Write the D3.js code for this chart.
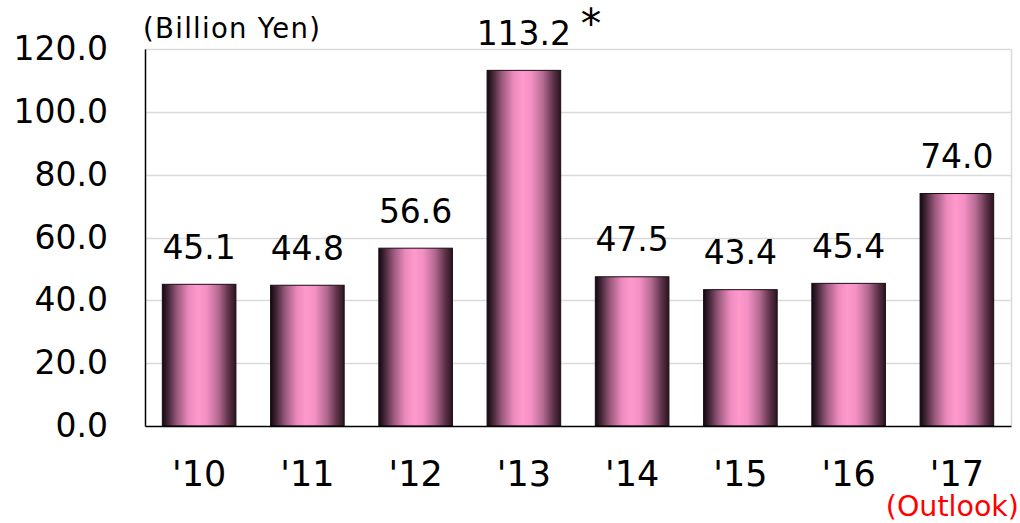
<!DOCTYPE html>
<html><head><meta charset="utf-8">
<script src="https://cdn.jsdelivr.net/npm/d3@7"></script>
<style>
html,body{margin:0;padding:0;background:#fff;}
svg{display:block;font-family:"DejaVu Sans",Verdana,sans-serif;}
</style></head>
<body>
<svg id="c" width="1020" height="523"></svg>
<script>
const categories = ["'10","'11","'12","'13","'14","'15","'16","'17"];
const values = [45.1,44.8,56.6,113.2,47.5,43.4,45.4,74.0];
const valueLabels = ["45.1","44.8","56.6","113.2","47.5","43.4","45.4","74.0"];
const yTicks = [0,20,40,60,80,100,120];
const unitLabel = "(Billion Yen)";
const noteLabel = "(Outlook)";

const svg = d3.select("#c");
const L=145, R=1011, T=49, B=426;
const x = d3.scaleBand().domain(categories).range([L,R]).paddingInner(0.32).paddingOuter(0.16);
const y = d3.scaleLinear().domain([0,120]).range([B,T]);

const defs = svg.append("defs");
const g = defs.append("linearGradient").attr("id","bg").attr("x1","0").attr("x2","1").attr("y1","0").attr("y2","0");
[[0,"#120810"],[0.07,"#3e2232"],[0.2,"#9a587c"],[0.36,"#ec8abd"],[0.48,"#ff99cc"],[0.6,"#f490c4"],[0.76,"#b46a92"],[0.9,"#5e3249"],[1,"#2a1420"]]
 .forEach(s=>g.append("stop").attr("offset",s[0]).attr("stop-color",s[1]));

// gridlines
svg.append("g").selectAll("line").data(yTicks.filter(t=>t>0)).join("line")
  .attr("x1",L).attr("x2",R).attr("y1",d=>Math.round(y(d))+0.5).attr("y2",d=>Math.round(y(d))+0.5)
  .attr("stroke","#d9d9d9").attr("stroke-width",1.5);
// right border
svg.append("line").attr("x1",R+0.5).attr("x2",R+0.5).attr("y1",T).attr("y2",B).attr("stroke","#d9d9d9").attr("stroke-width",1.5);

// bars
svg.append("g").selectAll("rect").data(values).join("rect")
  .attr("x",(d,i)=>x(categories[i])).attr("width",x.bandwidth())
  .attr("y",d=>y(d)).attr("height",d=>B-y(d))
  .attr("fill","url(#bg)").attr("stroke","#1a0d14").attr("stroke-width",1);

// axes
const ya = d3.axisLeft(y).tickValues(yTicks).tickFormat(d3.format(".1f")).tickSize(0).tickPadding(37);
const yg = svg.append("g").attr("transform",`translate(${L},0)`).call(ya);
yg.select(".domain").attr("stroke","#000").attr("stroke-width",1.5);
yg.selectAll("text").attr("font-size",33).attr("fill","#000").attr("font-family","DejaVu Sans");

const xa = d3.axisBottom(x).tickSize(0).tickPadding(35);
const xg = svg.append("g").attr("transform",`translate(0,${B})`).call(xa);
xg.select(".domain").attr("stroke","#000").attr("stroke-width",1.5);
xg.selectAll("text").attr("font-size",35).attr("fill","#000").attr("font-family","DejaVu Sans");

// value labels
svg.append("g").selectAll("text").data(values).join("text")
  .attr("x",(d,i)=>x(categories[i])+x.bandwidth()/2).attr("y",d=>y(d)-25.5)
  .attr("text-anchor","middle").attr("font-size",33).attr("fill","#000")
  .text((d,i)=>valueLabels[i]);

// asterisk
svg.append("text").attr("x",x("'13")+x.bandwidth()/2+67).attr("y",y(113.2)-32)
  .attr("text-anchor","middle").attr("font-size",41).attr("fill","#000").text("*");

svg.append("text").attr("x",143).attr("y",38).attr("font-size",27.5).attr("letter-spacing",1.3).attr("fill","#000").text(unitLabel);
svg.append("text").attr("x",1019).attr("y",516).attr("text-anchor","end").attr("font-size",28.5).attr("fill","#ff0000").text(noteLabel);
</script>
</body></html>
